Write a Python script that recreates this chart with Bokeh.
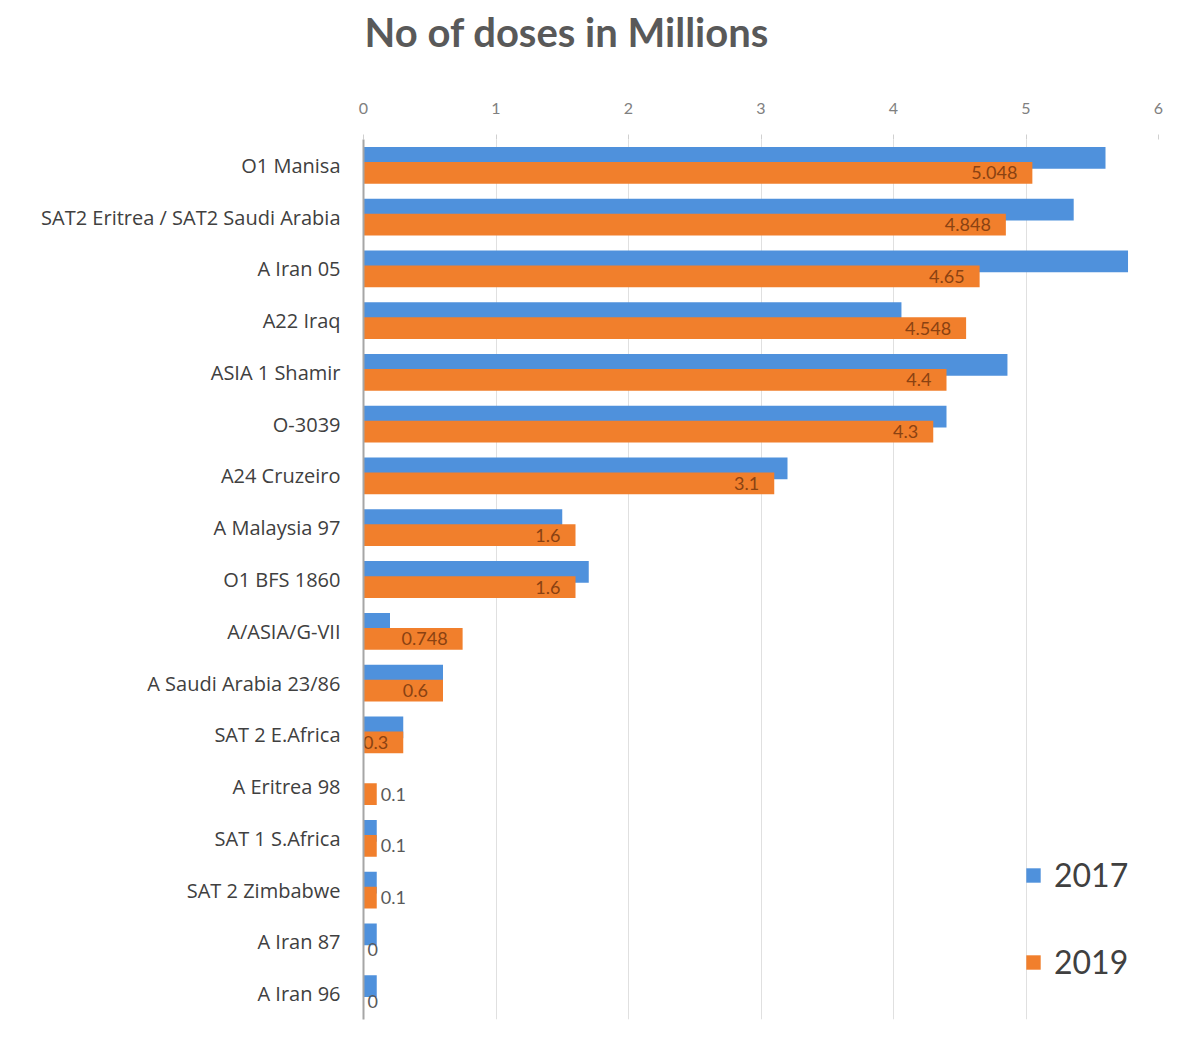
from bokeh.plotting import figure
from bokeh.models import FactorRange, ColumnDataSource, Legend, LegendItem, FixedTicker, Title
from bokeh.transform import dodge
from bokeh.core.properties import value
from bokeh.embed import file_html
from bokeh.resources import INLINE

categories = ["O1 Manisa", "SAT2 Eritrea / SAT2 Saudi Arabia", "A Iran 05", "A22 Iraq",
              "ASIA 1 Shamir", "O-3039", "A24 Cruzeiro", "A Malaysia 97", "O1 BFS 1860",
              "A/ASIA/G-VII", "A Saudi Arabia 23/86", "SAT 2 E.Africa", "A Eritrea 98",
              "SAT 1 S.Africa", "SAT 2 Zimbabwe", "A Iran 87", "A Iran 96"]
doses_2017 = [5.6, 5.36, 5.77, 4.06, 4.86, 4.4, 3.2, 1.5, 1.7, 0.2, 0.6, 0.3, 0.0,
              0.1, 0.1, 0.1, 0.1]
doses_2019 = [5.048, 4.848, 4.65, 4.548, 4.4, 4.3, 3.1, 1.6, 1.6, 0.748, 0.6, 0.3, 0.1,
              0.1, 0.1, 0, 0]
labels_2019 = ["5.048", "4.848", "4.65", "4.548", "4.4", "4.3", "3.1", "1.6", "1.6",
               "0.748", "0.6", "0.3", "0.1", "0.1", "0.1", "0", "0"]
x_ticks = [0, 1, 2, 3, 4, 5, 6]
title_text = "No of doses in Millions"

FONT = "Lato"
BLUE = "#4f91dc"
ORANGE = "#f17f2c"

src = ColumnDataSource(dict(cat=categories, v17=doses_2017, v19=doses_2019, lab=labels_2019))
inside = [i for i, v in enumerate(doses_2019) if v >= 0.3]
outside = [i for i, v in enumerate(doses_2019) if v < 0.3]
src_in = ColumnDataSource(dict(cat=[categories[i] for i in inside],
                               v19=[doses_2019[i] for i in inside],
                               lab=[labels_2019[i] for i in inside]))
src_out = ColumnDataSource(dict(cat=[categories[i] for i in outside],
                                v19=[doses_2019[i] for i in outside],
                                lab=[labels_2019[i] for i in outside]))

p = figure(width=1195, height=1043, output_backend="svg", toolbar_location=None,
           y_range=FactorRange(factors=categories[::-1], range_padding=0),
           x_range=(0, 6), x_axis_location="above",
           min_border_left=363, min_border_right=37, min_border_top=139, min_border_bottom=24)

p.outline_line_color = None
p.background_fill_color = "white"
p.border_fill_color = "white"

# spacer between axis labels and the title, then the title itself
p.add_layout(Title(text=" ", text_font_size="12px", standoff=19), "above")
p.add_layout(Title(text=title_text, text_font=FONT, text_font_size="40px",
                   text_font_style="bold", text_color="#595959", align="left",
                   vertical_align="top", offset=1, standoff=14), "above")

bh = 0.42
p.hbar(y=dodge("cat", 0.145, range=p.y_range), right="v17", left=0, height=bh,
       source=src, fill_color=BLUE, line_color=None)
p.hbar(y=dodge("cat", -0.145, range=p.y_range), right="v19", left=0, height=bh,
       source=src, fill_color=ORANGE, line_color=None)

p.text(x="v19", y=dodge("cat", -0.145, range=p.y_range), text="lab", source=src_in,
       text_align="right", text_baseline="middle", x_offset=-15,
       text_font=value(FONT), text_font_size="18px", text_color="#8a4212")
p.text(x="v19", y=dodge("cat", -0.145, range=p.y_range), text="lab", source=src_out,
       text_align="left", text_baseline="middle", x_offset=4,
       text_font=value(FONT), text_font_size="18px", text_color="#595959")

xa = p.xaxis[0]
xa.ticker = FixedTicker(ticks=x_ticks)
xa.axis_line_color = None
xa.major_tick_line_color = "#d0d0d0"
xa.major_tick_out = 5
xa.major_tick_in = 0
xa.minor_tick_line_color = None
xa.major_label_standoff = 21
xa.major_label_text_font = FONT
xa.major_label_text_font_size = "16px"
xa.major_label_text_color = "#808080"

ya = p.yaxis[0]
ya.axis_line_color = "#a6a6a6"
ya.axis_line_width = 2
ya.major_tick_line_color = None
ya.minor_tick_line_color = None
ya.major_label_standoff = 17
ya.major_label_text_font = "Open Sans"
ya.major_label_text_font_size = "20px"
ya.major_label_text_color = "#404040"

p.xgrid.grid_line_color = "#e0e0e0"
p.ygrid.grid_line_color = None

r17 = p.hbar(y=[categories[0]], right=[0], height=0, fill_color=BLUE, line_color=None)
r19 = p.hbar(y=[categories[0]], right=[0], height=0, fill_color=ORANGE, line_color=None)
legend = Legend(items=[LegendItem(label="2017", renderers=[r17]),
                       LegendItem(label="2019", renderers=[r19])],
                location=(661, 38), orientation="vertical",
                label_text_font=FONT, label_text_font_size="32px", label_text_color="#404040",
                glyph_width=18, glyph_height=18, label_height=30, spacing=48,
                padding=0, margin=0, border_line_color=None, background_fill_alpha=0,
                label_standoff=12)
p.add_layout(legend)

open("out.html", "w").write(file_html(p, INLINE))
